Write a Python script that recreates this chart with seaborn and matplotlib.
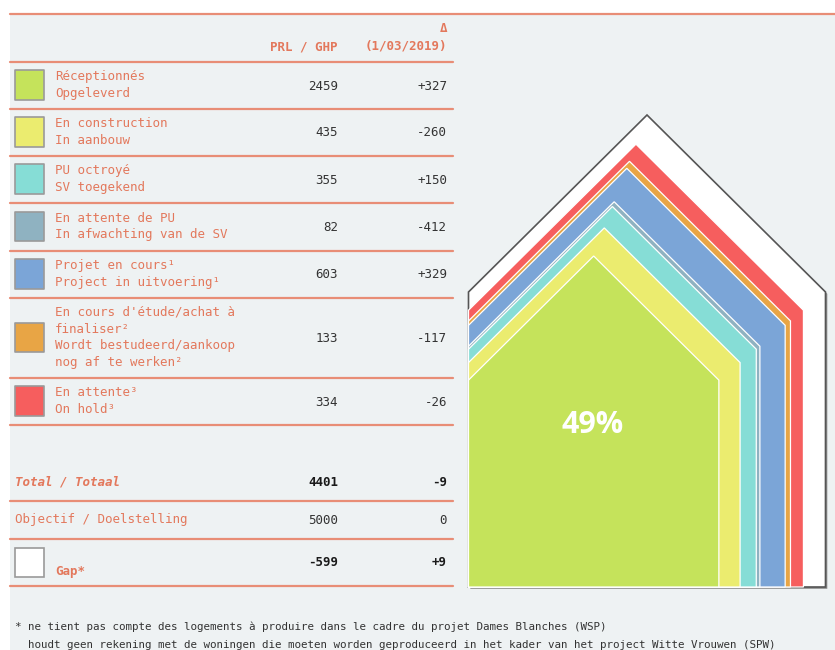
import matplotlib
matplotlib.use("Agg")
import matplotlib.pyplot as plt
from matplotlib.patches import Polygon, Rectangle
import numpy as np
import pandas as pd
import seaborn as sns

# ---------------- data ----------------
labels = [
    ["Réceptionnés", "Opgeleverd"],
    ["En construction", "In aanbouw"],
    ["PU octroyé", "SV toegekend"],
    ["En attente de PU", "In afwachting van de SV"],
    ["Projet en cours¹", "Project in uitvoering¹"],
    ["En cours d'étude/achat à", "finaliser²", "Wordt bestudeerd/aankoop", "nog af te werken²"],
    ["En attente³", "On hold³"],
]
values = [2459, 435, 355, 82, 603, 133, 334]
deltas = ["+327", "-260", "+150", "-412", "+329", "-117", "-26"]
colors = ["#c5e35b", "#ebec6f", "#86ddd6", "#8fb2c1", "#7ba5d7", "#e8a545", "#f65e5e"]
total_label = "Total / Totaal"
total_value = 4401
total_delta = "-9"
objective_label = "Objectif / Doelstelling"
objective_value = 5000
objective_delta = "0"
gap_label = "Gap*"
gap_value = -599
gap_delta = "+9"
header_value = "PRL / GHP"
header_delta = ["Δ", "(1/03/2019)"]
footnote = [
    "* ne tient pas compte des logements à produire dans le cadre du projet Dames Blanches (WSP)",
    "  houdt geen rekening met de woningen die moeten worden geproduceerd in het kader van het project Witte Vrouwen (SPW)",
]

# ---------------- style ----------------
sns.set_theme(style="white")
plt.rcParams["font.family"] = ["DejaVu Sans Mono", "DejaVu Sans"]

SALMON = "#e3785c"
LINE = "#e88d76"
DARK = "#333333"
BG = "#eef2f3"

fig = plt.figure(figsize=(8.35, 6.5), dpi=100, facecolor="white")
ax = fig.add_axes([0, 0, 1, 1])
ax.set_xlim(0, 835)
ax.set_ylim(650, 0)
ax.axis("off")

# background panel
ax.add_patch(Rectangle((10, 14), 825, 640, facecolor=BG, edgecolor="none", zorder=0))

# table lines
ax.plot([10, 835], [14, 14], color=LINE, lw=1.6, zorder=2)
bounds = [62, 109, 156, 203, 251, 298, 378, 425]
for yb in bounds + [501, 539, 586]:
    ax.plot([10, 453], [yb, yb], color=LINE, lw=1.6, zorder=2)

fs = 9
X_TXT, X_VAL, X_DEL = 55, 338, 447

# header
ax.text(X_VAL, 47, header_value, ha="right", va="center", fontsize=fs, color=SALMON, fontweight="bold")
ax.text(X_DEL, 29, header_delta[0], ha="right", va="center", fontsize=fs, color=SALMON, fontweight="bold")
ax.text(X_DEL, 46, header_delta[1], ha="right", va="center", fontsize=fs, color=SALMON, fontweight="bold")

# rows
centers = [(bounds[i] + bounds[i + 1]) / 2 - 0.5 for i in range(len(values))]
df = pd.DataFrame({"x": [29.5] * len(values), "y": centers, "cat": [l[0] for l in labels]})
sns.scatterplot(data=df, x="x", y="y", hue="cat", palette=colors, marker="s", s=440,
                edgecolor="#9a9a9a", linewidth=1.2, legend=False, ax=ax, zorder=3)
for i, (lab, v, d) in enumerate(zip(labels, values, deltas)):
    c = centers[i]
    n = len(lab)
    for j, line in enumerate(lab):
        yy = c + (j - (n - 1) / 2) * 16.8
        ax.text(X_TXT, yy, line, ha="left", va="center", fontsize=fs, color=SALMON)
    ax.text(X_VAL, c + 1, f"{v}", ha="right", va="center", fontsize=fs, color=DARK)
    ax.text(X_DEL, c + 1, d, ha="right", va="center", fontsize=fs, color=DARK)

ax.set_xlim(0, 835)
ax.set_ylim(650, 0)
ax.axis("off")

# total row
ax.text(15, 482, total_label, ha="left", va="center", fontsize=fs, color=SALMON,
        fontweight="bold", fontstyle="italic")
ax.text(X_VAL, 482, f"{total_value}", ha="right", va="center", fontsize=fs, color="#1a1a1a", fontweight="bold")
ax.text(X_DEL, 482, total_delta, ha="right", va="center", fontsize=fs, color="#1a1a1a", fontweight="bold")
# objective row
ax.text(15, 520, objective_label, ha="left", va="center", fontsize=fs, color=SALMON)
ax.text(X_VAL, 520, f"{objective_value}", ha="right", va="center", fontsize=fs, color=DARK)
ax.text(X_DEL, 520, objective_delta, ha="right", va="center", fontsize=fs, color=DARK)
# gap row
ax.add_patch(Rectangle((15, 548), 29, 29, facecolor="white", edgecolor="#9a9a9a", lw=1.2, zorder=3))
ax.text(X_TXT, 572, gap_label, ha="left", va="center", fontsize=fs, color=SALMON, fontweight="bold")
ax.text(X_VAL, 563, f"{gap_value}", ha="right", va="center", fontsize=fs, color="#1a1a1a", fontweight="bold")
ax.text(X_DEL, 563, gap_delta, ha="right", va="center", fontsize=fs, color="#1a1a1a", fontweight="bold")

# footnote
ax.text(15, 627, footnote[0], ha="left", va="center", fontsize=7.8, color=DARK)
ax.text(15, 645, footnote[1], ha="left", va="center", fontsize=7.8, color=DARK)

# ---------------- house chart ----------------
X0, YB = 468.5, 587.0
W, WALL, ROOF = 357.0, 295.0, 177.0


def house(s, dx=0.0, dy=0.0):
    w, h, r = W * s, WALL * s, ROOF * s
    return np.array([
        [X0 + dx, YB + dy],
        [X0 + w + dx, YB + dy],
        [X0 + w + dx, YB - h + dy],
        [X0 + w / 2 + dx, YB - h - r + dy],
        [X0 + dx, YB - h + dy],
    ])


# outer (objective) house with shadow
ax.add_patch(Polygon(house(1.0, 1.8, 1.8), closed=True, facecolor="#8a8a8a", edgecolor="none", zorder=4))
ax.add_patch(Polygon(house(1.0), closed=True, facecolor="white", edgecolor="#555555", lw=1.2, zorder=5))

cum = np.cumsum(values)
for k in range(len(values) - 1, -1, -1):
    s = np.sqrt(cum[k] / objective_value)
    ax.add_patch(Polygon(house(s), closed=True, facecolor=colors[k], edgecolor="white",
                         lw=0.9, zorder=6 + (len(values) - k)))

pct = values[0] / objective_value * 100
ax.text(593, 425, f"{pct:.0f}%", ha="center", va="center", fontsize=22, color="white",
        fontweight="bold", family=["Open Sans", "DejaVu Sans"], zorder=20)

fig.savefig("out.png", dpi=100, facecolor="white")
